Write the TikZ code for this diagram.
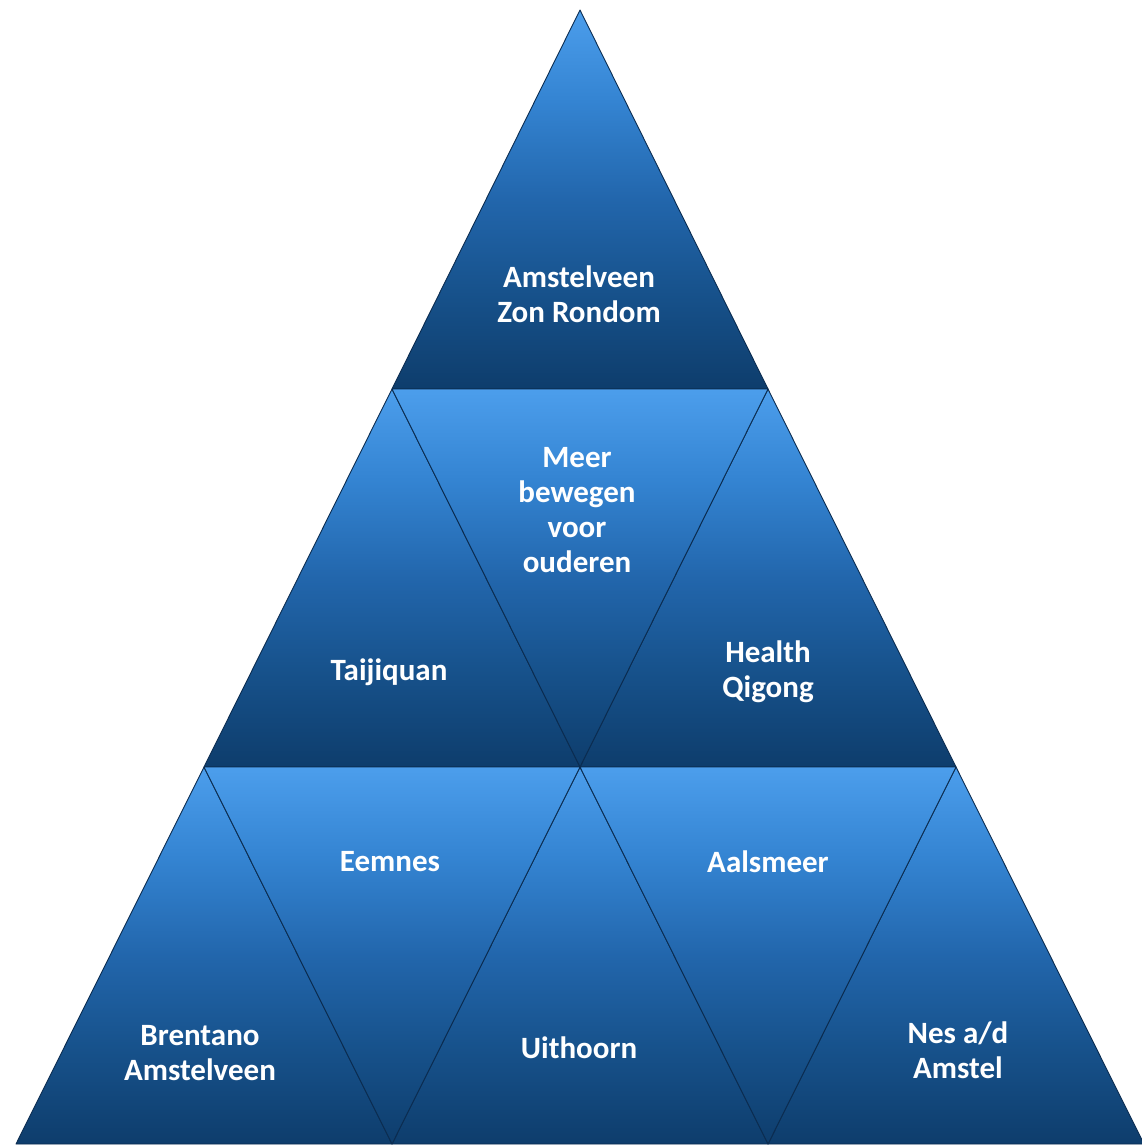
\documentclass[tikz,border=0pt]{standalone}
\usepackage{fontspec}
\setmainfont{Carlito}
\definecolor{cT}{HTML}{4C9EEC}
\definecolor{cU}{HTML}{3484D2}
\definecolor{cM}{HTML}{2266AC}
\definecolor{cL}{HTML}{17528C}
\definecolor{cB}{HTML}{0E3D6C}
\definecolor{edge}{HTML}{0B2C50}
\pgfdeclareverticalshading{trishade}{100bp}{color(0bp)=(cB); color(25bp)=(cB); color(38bp)=(cL); color(50bp)=(cM); color(63bp)=(cU); color(75bp)=(cT); color(100bp)=(cT)}
\begin{document}
\begin{tikzpicture}[x=1pt,y=-1pt,
  tri/.style={shading=trishade, draw=edge, line width=0.9pt, line join=round},
  lbl/.style={text=white, font=\fontsize{31}{35}\selectfont\bfseries, align=center}]
\useasboundingbox (0,0) rectangle (1141,1146);
% row y-levels: 10, 389, 767, 1144
\coordinate (A) at (580,10);
\coordinate (B1) at (392,389); \coordinate (B2) at (768,389);
\coordinate (C1) at (204,767); \coordinate (C2) at (580,767); \coordinate (C3) at (956,767);
\coordinate (D1) at (16,1144); \coordinate (D2) at (392,1144); \coordinate (D3) at (768,1144); \coordinate (D4) at (1144,1144);
% top
\shade[tri] (A) -- (B2) -- (B1) -- cycle;
% row 2
\shade[tri] (B1) -- (C2) -- (C1) -- cycle;
\shade[tri] (B2) -- (C3) -- (C2) -- cycle;
\shade[tri] (B1) -- (B2) -- (C2) -- cycle;
% row 3
\shade[tri] (C1) -- (D2) -- (D1) -- cycle;
\shade[tri] (C2) -- (D3) -- (D2) -- cycle;
\shade[tri] (C3) -- (D4) -- (D3) -- cycle;
\shade[tri] (C1) -- (C2) -- (D2) -- cycle;
\shade[tri] (C2) -- (C3) -- (D3) -- cycle;
% labels
\node[lbl] (t1) at (579,294) {Amstelveen\\Zon Rondom};
\node[lbl] (t2) at (577,510) {Meer\\bewegen\\voor\\ouderen};
\node[lbl] (t3) at (389,672) {Taijiquan};
\node[lbl] (t4) at (768,672) {Health\\Qigong};
\node[lbl] (t5) at (390,862) {Eemnes};
\node[lbl] (t6) at (768,862) {Aalsmeer};
\node[lbl] (t7) at (200,1053) {Brentano\\Amstelveen};
\node[lbl] (t8) at (579,1048) {Uithoorn};
\node[lbl] (t9) at (958,1050) {Nes a/d\\Amstel};
\end{tikzpicture}
\end{document}
